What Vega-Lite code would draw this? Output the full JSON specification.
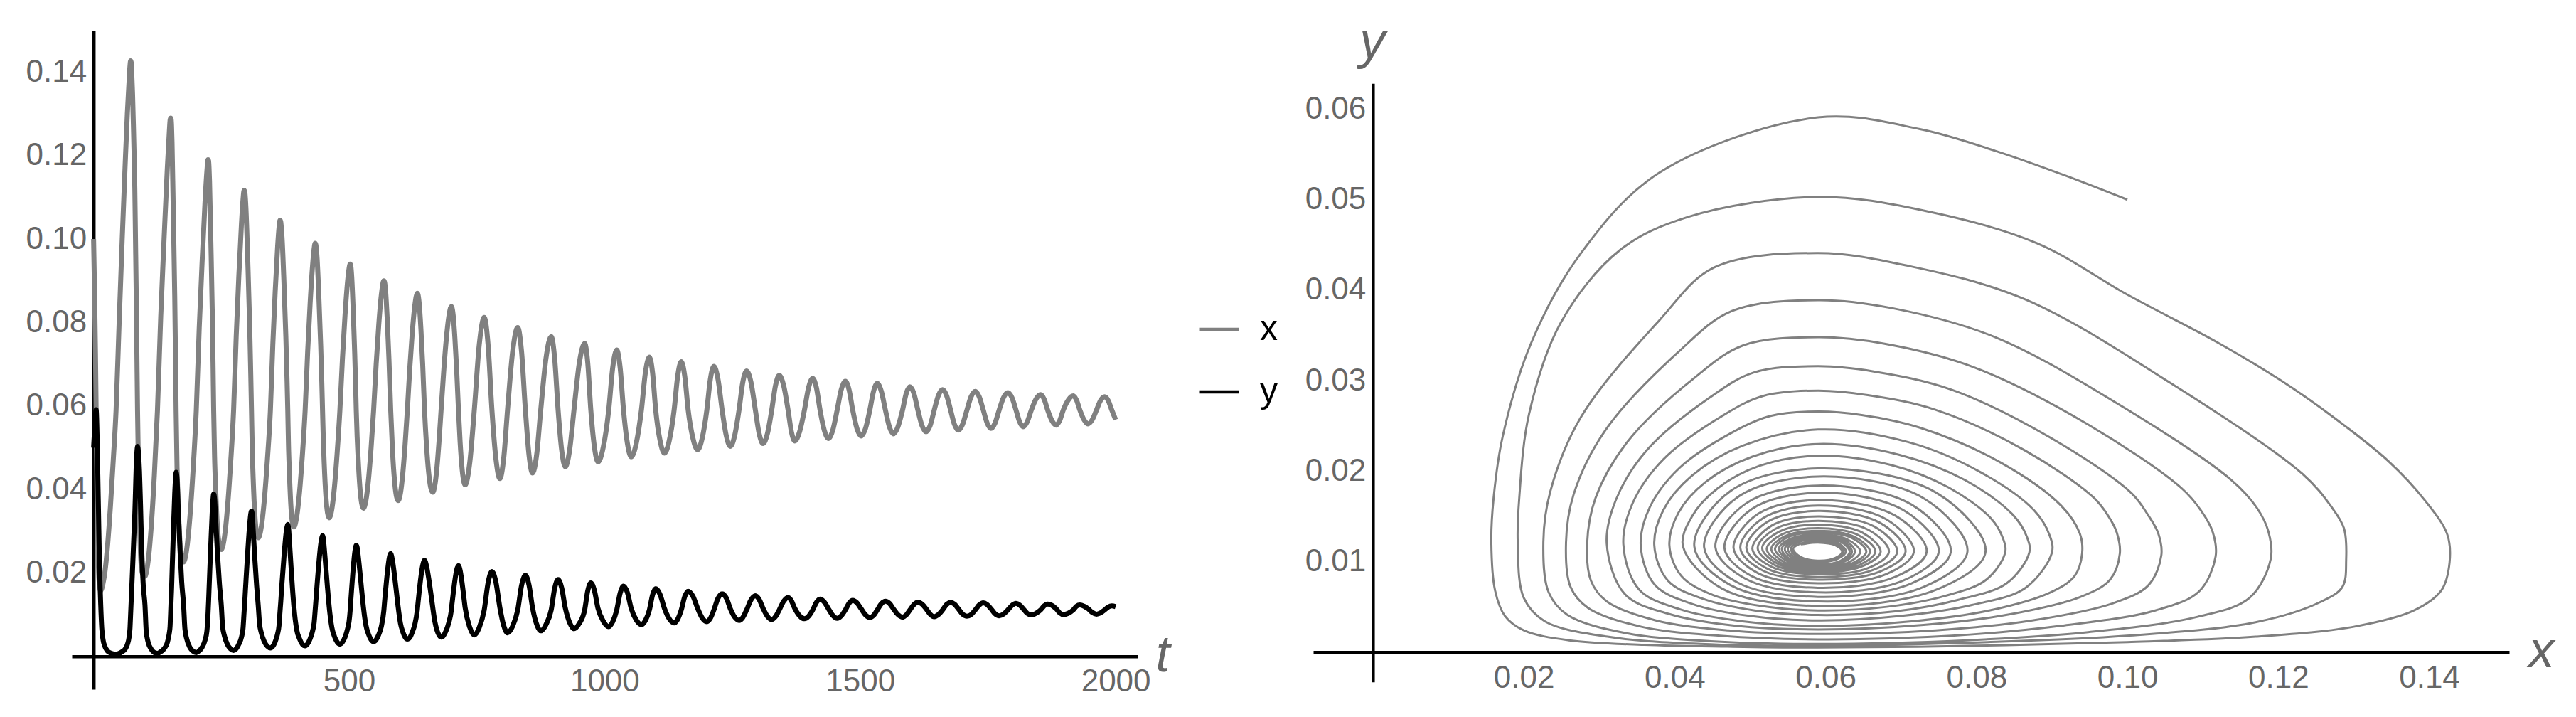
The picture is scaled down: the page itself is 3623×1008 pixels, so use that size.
{
"$schema": "https://vega.github.io/schema/vega-lite/v6.json",
"width": 3623,
"height": 1008,
"autosize": {"type": "none"},
"padding": 0,
"background": "white",
"config": {
  "view": {"stroke": null},
  "font": "Liberation Sans",
  "axis": {"grid": false, "ticks": false, "tickSize": 0, "domainColor": "#000000", "domainWidth": 4.5, "labelFont": "Liberation Sans", "labelFontSize": 44, "labelColor": "#666666", "titleFont": "Liberation Sans", "titleFontStyle": "italic", "titleFontWeight": "normal", "titleFontSize": 72, "titleColor": "#666666", "titleAngle": 0, "titleAlign": "center", "titleBaseline": "alphabetic"}
},
"data": {"values": [
{"t":0,"x":0.1000,"y":0.0500},{"t":1.2,"x":0.0920,"y":0.0526},{"t":2.5,"x":0.0825,"y":0.0554},{"t":3.7,"x":0.0725,"y":0.0578},{"t":5,"x":0.0590,"y":0.0591},{"t":6.8,"x":0.0380,"y":0.0530},{"t":8.2,"x":0.0275,"y":0.0440},{"t":9.7,"x":0.0210,"y":0.0342},{"t":11.3,"x":0.0172,"y":0.0238},{"t":12.7,"x":0.0160,"y":0.0170},
{"t":14,"x":0.0157,"y":0.0123},{"t":16,"x":0.0162,"y":0.0068},{"t":18.5,"x":0.0175,"y":0.0040},{"t":22,"x":0.0200,"y":0.0024},{"t":27,"x":0.0260,"y":0.0013},{"t":33,"x":0.0360,"y":0.0008},{"t":38.5,"x":0.0470,"y":0.0006},{"t":44,"x":0.0590,"y":0.0005},
{"t":50,"x":0.0800,"y":0.0007},{"t":56,"x":0.1000,"y":0.0011},{"t":61.5,"x":0.1170,"y":0.0017},{"t":66,"x":0.1300,"y":0.0028},{"t":69.5,"x":0.1380,"y":0.0046},{"t":71.3,"x":0.1416,"y":0.0068},{"t":72.4,"x":0.1427,"y":0.0099},
{"t":73.5,"x":0.1424,"y":0.0130},{"t":74.8,"x":0.1395,"y":0.0167},{"t":76.3,"x":0.1346,"y":0.0211},{"t":77.9,"x":0.1274,"y":0.0259},{"t":79.3,"x":0.1202,"y":0.0301},{"t":80.7,"x":0.1120,"y":0.0342},{"t":82,"x":0.1000,"y":0.0395},{"t":83.3,"x":0.0880,"y":0.0452},{"t":84.7,"x":0.0730,"y":0.0488},{"t":86,"x":0.0590,"y":0.0503},
{"t":88.2,"x":0.0418,"y":0.0481},{"t":89.8,"x":0.0327,"y":0.0444},{"t":91.8,"x":0.0249,"y":0.0364},{"t":94,"x":0.0207,"y":0.0263},{"t":97.2,"x":0.0194,"y":0.0170},{"t":100.6,"x":0.0192,"y":0.0122},
{"t":103.0,"x":0.0200,"y":0.0060},{"t":106.7,"x":0.0228,"y":0.0034},{"t":112.8,"x":0.0311,"y":0.0017},{"t":118.9,"x":0.0434,"y":0.0009},{"t":125,"x":0.0590,"y":0.0007},
{"t":131.4,"x":0.0815,"y":0.0011},{"t":137.9,"x":0.0999,"y":0.0018},{"t":144.3,"x":0.1170,"y":0.0033},{"t":148.1,"x":0.1255,"y":0.0055},{"t":149.7,"x":0.1285,"y":0.0072},{"t":150.7,"x":0.1290,"y":0.0102},
{"t":151.8,"x":0.1287,"y":0.0137},{"t":152.6,"x":0.1270,"y":0.0161},{"t":153.5,"x":0.1232,"y":0.0197},{"t":156.1,"x":0.1058,"y":0.0297},{"t":158.8,"x":0.0864,"y":0.0390},{"t":160.4,"x":0.0709,"y":0.0427},{"t":161.5,"x":0.0590,"y":0.0441},
{"t":163.3,"x":0.0452,"y":0.0425},{"t":165.2,"x":0.0380,"y":0.0367},{"t":168.9,"x":0.0276,"y":0.0260},{"t":172.5,"x":0.0235,"y":0.0177},{"t":176.2,"x":0.0226,"y":0.0122},
{"t":178.7,"x":0.0233,"y":0.0066},{"t":182.4,"x":0.0258,"y":0.0041},{"t":188.6,"x":0.0335,"y":0.0021},{"t":194.8,"x":0.0448,"y":0.0012},{"t":201,"x":0.0590,"y":0.0009},
{"t":206.75,"x":0.0787,"y":0.0013},{"t":212.5,"x":0.0948,"y":0.0022},{"t":218.25,"x":0.1093,"y":0.0039},{"t":221.7,"x":0.1162,"y":0.0060},{"t":224,"x":0.1190,"y":0.0103},
{"t":225.1,"x":0.1187,"y":0.0133},{"t":225.9,"x":0.1172,"y":0.0159},{"t":226.9,"x":0.1138,"y":0.0190},{"t":229.5,"x":0.0994,"y":0.0271},{"t":232.25,"x":0.0825,"y":0.0348},{"t":233.9,"x":0.0689,"y":0.0380},{"t":235,"x":0.0590,"y":0.0389},
{"t":236.8,"x":0.0476,"y":0.0377},{"t":238.75,"x":0.0404,"y":0.0331},{"t":242.5,"x":0.0308,"y":0.0245},{"t":246.25,"x":0.0266,"y":0.0174},{"t":250,"x":0.0256,"y":0.0121},
{"t":252.4,"x":0.0262,"y":0.0072},{"t":256,"x":0.0285,"y":0.0049},{"t":262,"x":0.0356,"y":0.0028},{"t":268,"x":0.0460,"y":0.0018},{"t":274,"x":0.0590,"y":0.0014},
{"t":279.1,"x":0.0767,"y":0.0018},{"t":284.25,"x":0.0912,"y":0.0029},{"t":289.4,"x":0.1037,"y":0.0046},{"t":292.45,"x":0.1095,"y":0.0067},{"t":294.5,"x":0.1117,"y":0.0106},
{"t":295.95,"x":0.1113,"y":0.0133},{"t":297,"x":0.1098,"y":0.0156},{"t":298.2,"x":0.1072,"y":0.0181},{"t":301.75,"x":0.0947,"y":0.0252},{"t":305.4,"x":0.0796,"y":0.0315},{"t":307.55,"x":0.0677,"y":0.0341},{"t":309,"x":0.0590,"y":0.0348},
{"t":310.6,"x":0.0491,"y":0.0339},{"t":312.3,"x":0.0426,"y":0.0303},{"t":315.65,"x":0.0337,"y":0.0232},{"t":319,"x":0.0295,"y":0.0170},{"t":322.3,"x":0.0284,"y":0.0120},
{"t":324.7,"x":0.0289,"y":0.0079},{"t":328.2,"x":0.0310,"y":0.0056},{"t":334.15,"x":0.0375,"y":0.0035},{"t":340.1,"x":0.0471,"y":0.0024},{"t":346,"x":0.0590,"y":0.0020},
{"t":350.7,"x":0.0746,"y":0.0024},{"t":355.4,"x":0.0874,"y":0.0035},{"t":360.1,"x":0.0981,"y":0.0054},{"t":362.9,"x":0.1028,"y":0.0074},{"t":364.8,"x":0.1045,"y":0.0107},
{"t":366.3,"x":0.1041,"y":0.0131},{"t":367.4,"x":0.1027,"y":0.0152},{"t":368.7,"x":0.1005,"y":0.0176},{"t":372.4,"x":0.0900,"y":0.0236},{"t":376.2,"x":0.0767,"y":0.0290},{"t":378.5,"x":0.0665,"y":0.0310},{"t":380,"x":0.0590,"y":0.0316},
{"t":381.4,"x":0.0505,"y":0.0309},{"t":383,"x":0.0446,"y":0.0281},{"t":385.95,"x":0.0363,"y":0.0223},{"t":388.9,"x":0.0322,"y":0.0168},{"t":391.9,"x":0.0310,"y":0.0120},
{"t":397.4,"x":0.0334,"y":0.0064},{"t":402.95,"x":0.0393,"y":0.0042},{"t":408.5,"x":0.0481,"y":0.0029},{"t":414,"x":0.0590,"y":0.0025},
{"t":418.9,"x":0.0730,"y":0.0030},{"t":423.75,"x":0.0846,"y":0.0042},{"t":428.6,"x":0.0938,"y":0.0061},{"t":431.55,"x":0.0977,"y":0.0080},{"t":433.5,"x":0.0990,"y":0.0109},
{"t":434.95,"x":0.0986,"y":0.0132},{"t":436,"x":0.0975,"y":0.0150},{"t":437.3,"x":0.0955,"y":0.0171},{"t":440.75,"x":0.0864,"y":0.0223},{"t":444.4,"x":0.0745,"y":0.0268},{"t":446.6,"x":0.0656,"y":0.0284},{"t":448,"x":0.0590,"y":0.0289},
{"t":449.6,"x":0.0517,"y":0.0283},{"t":451.25,"x":0.0463,"y":0.0261},{"t":454.5,"x":0.0385,"y":0.0213},{"t":457.75,"x":0.0344,"y":0.0164},{"t":461,"x":0.0332,"y":0.0119},
{"t":466.25,"x":0.0353,"y":0.0069},{"t":471.5,"x":0.0408,"y":0.0047},{"t":476.75,"x":0.0490,"y":0.0034},{"t":482,"x":0.0590,"y":0.0029},
{"t":487,"x":0.0714,"y":0.0034},{"t":492,"x":0.0817,"y":0.0046},{"t":497,"x":0.0898,"y":0.0066},{"t":500,"x":0.0930,"y":0.0084},{"t":502,"x":0.0940,"y":0.0109},
{"t":503.2,"x":0.0937,"y":0.0131},{"t":505,"x":0.0912,"y":0.0162},{"t":508,"x":0.0831,"y":0.0210},{"t":511,"x":0.0725,"y":0.0248},{"t":512.8,"x":0.0648,"y":0.0262},{"t":514,"x":0.0590,"y":0.0266},
{"t":515.7,"x":0.0527,"y":0.0261},{"t":517.5,"x":0.0479,"y":0.0244},{"t":521,"x":0.0407,"y":0.0204},{"t":524.5,"x":0.0367,"y":0.0160},{"t":528,"x":0.0355,"y":0.0118},
{"t":533,"x":0.0374,"y":0.0074},{"t":538,"x":0.0424,"y":0.0053},{"t":543,"x":0.0499,"y":0.0040},{"t":548,"x":0.0590,"y":0.0035},
{"t":553,"x":0.0701,"y":0.0040},{"t":558,"x":0.0794,"y":0.0052},{"t":563,"x":0.0865,"y":0.0071},{"t":568,"x":0.0900,"y":0.0110},
{"t":569.3,"x":0.0897,"y":0.0129},{"t":571.35,"x":0.0876,"y":0.0157},{"t":574.7,"x":0.0805,"y":0.0199},{"t":578.05,"x":0.0710,"y":0.0232},{"t":581.4,"x":0.0590,"y":0.0246},
{"t":585.05,"x":0.0490,"y":0.0228},{"t":588.7,"x":0.0423,"y":0.0195},{"t":592.35,"x":0.0385,"y":0.0157},{"t":596,"x":0.0373,"y":0.0118},
{"t":600.5,"x":0.0391,"y":0.0079},{"t":605,"x":0.0437,"y":0.0059},{"t":609.5,"x":0.0506,"y":0.0046},{"t":614,"x":0.0590,"y":0.0041},
{"t":618.85,"x":0.0692,"y":0.0045},{"t":623.7,"x":0.0777,"y":0.0058},{"t":628.55,"x":0.0840,"y":0.0076},{"t":633.4,"x":0.0870,"y":0.0110},
{"t":634.8,"x":0.0867,"y":0.0127},{"t":636.95,"x":0.0848,"y":0.0152},{"t":640.5,"x":0.0785,"y":0.0190},{"t":644.05,"x":0.0698,"y":0.0218},{"t":647.6,"x":0.0590,"y":0.0230},
{"t":651.6,"x":0.0503,"y":0.0216},{"t":655.6,"x":0.0441,"y":0.0188},{"t":659.6,"x":0.0405,"y":0.0154},{"t":663.6,"x":0.0393,"y":0.0118},
{"t":667.7,"x":0.0409,"y":0.0084},{"t":671.8,"x":0.0451,"y":0.0063},{"t":675.9,"x":0.0514,"y":0.0051},{"t":680,"x":0.0590,"y":0.0046},
{"t":685,"x":0.0681,"y":0.0050},{"t":690,"x":0.0758,"y":0.0062},{"t":695,"x":0.0813,"y":0.0080},{"t":700,"x":0.0838,"y":0.0110},
{"t":701.4,"x":0.0835,"y":0.0126},{"t":703.5,"x":0.0819,"y":0.0148},{"t":707,"x":0.0763,"y":0.0182},{"t":710.5,"x":0.0686,"y":0.0207},{"t":714,"x":0.0590,"y":0.0217},
{"t":717.25,"x":0.0513,"y":0.0206},{"t":720.5,"x":0.0457,"y":0.0181},{"t":723.75,"x":0.0423,"y":0.0150},{"t":727,"x":0.0411,"y":0.0117},
{"t":736,"x":0.0463,"y":0.0070},{"t":745,"x":0.0590,"y":0.0051},{"t":754.7,"x":0.0747,"y":0.0069},{"t":764.4,"x":0.0812,"y":0.0111},{"t":771.95,"x":0.0747,"y":0.0176},{"t":779.5,"x":0.0590,"y":0.0203},{"t":787.25,"x":0.0474,"y":0.0178},{"t":795,"x":0.0426,"y":0.0117},
{"t":802.5,"x":0.0474,"y":0.0074},{"t":810,"x":0.0590,"y":0.0056},{"t":820,"x":0.0730,"y":0.0072},{"t":830,"x":0.0788,"y":0.0111},{"t":837.5,"x":0.0730,"y":0.0170},{"t":845,"x":0.0590,"y":0.0194},{"t":852,"x":0.0483,"y":0.0171},{"t":859,"x":0.0439,"y":0.0116},
{"t":867,"x":0.0483,"y":0.0077},{"t":875,"x":0.0590,"y":0.0061},{"t":885.25,"x":0.0714,"y":0.0076},{"t":895.5,"x":0.0766,"y":0.0111},{"t":902.25,"x":0.0714,"y":0.0163},{"t":909,"x":0.0590,"y":0.0184},{"t":916,"x":0.0494,"y":0.0164},{"t":923,"x":0.0454,"y":0.0116},
{"t":931.5,"x":0.0494,"y":0.0081},{"t":940,"x":0.0590,"y":0.0066},{"t":950.5,"x":0.0703,"y":0.0079},{"t":961,"x":0.0750,"y":0.0111},{"t":967,"x":0.0703,"y":0.0157},{"t":973,"x":0.0590,"y":0.0176},{"t":980,"x":0.0502,"y":0.0158},{"t":987,"x":0.0466,"y":0.0115},
{"t":997.5,"x":0.0502,"y":0.0084},{"t":1008,"x":0.0590,"y":0.0071},{"t":1015.85,"x":0.0692,"y":0.0083},{"t":1023.7,"x":0.0734,"y":0.0111},{"t":1030.35,"x":0.0692,"y":0.0151},{"t":1037,"x":0.0590,"y":0.0168},{"t":1044.5,"x":0.0511,"y":0.0153},{"t":1052,"x":0.0478,"y":0.0115},
{"t":1062,"x":0.0511,"y":0.0087},{"t":1072,"x":0.0590,"y":0.0076},{"t":1079.8,"x":0.0680,"y":0.0086},{"t":1087.6,"x":0.0717,"y":0.0111},{"t":1093.8,"x":0.0680,"y":0.0147},{"t":1100,"x":0.0590,"y":0.0162},{"t":1108.5,"x":0.0517,"y":0.0148},{"t":1117,"x":0.0487,"y":0.0115},
{"t":1126.5,"x":0.0517,"y":0.0090},{"t":1136,"x":0.0590,"y":0.0080},{"t":1143,"x":0.0672,"y":0.0089},{"t":1150,"x":0.0706,"y":0.0111},{"t":1156.75,"x":0.0672,"y":0.0143},{"t":1163.5,"x":0.0590,"y":0.0156},{"t":1172.75,"x":0.0523,"y":0.0144},{"t":1182,"x":0.0495,"y":0.0115},
{"t":1191,"x":0.0523,"y":0.0092},{"t":1200,"x":0.0590,"y":0.0083},{"t":1206.9,"x":0.0664,"y":0.0091},{"t":1213.8,"x":0.0695,"y":0.0111},{"t":1221.9,"x":0.0664,"y":0.0139},{"t":1230,"x":0.0590,"y":0.0150},{"t":1238,"x":0.0529,"y":0.0140},{"t":1246,"x":0.0503,"y":0.0114},
{"t":1254.5,"x":0.0529,"y":0.0094},{"t":1263,"x":0.0590,"y":0.0086},{"t":1270.4,"x":0.0657,"y":0.0093},{"t":1277.8,"x":0.0684,"y":0.0111},{"t":1286.4,"x":0.0657,"y":0.0135},{"t":1295,"x":0.0590,"y":0.0145},{"t":1302.5,"x":0.0533,"y":0.0136},{"t":1310,"x":0.0510,"y":0.0115},
{"t":1318.5,"x":0.0533,"y":0.0096},{"t":1327,"x":0.0590,"y":0.0088},{"t":1334.35,"x":0.0649,"y":0.0095},{"t":1341.7,"x":0.0673,"y":0.0111},{"t":1350.35,"x":0.0649,"y":0.0132},{"t":1359,"x":0.0590,"y":0.0141},{"t":1365.5,"x":0.0538,"y":0.0133},{"t":1372,"x":0.0516,"y":0.0115},
{"t":1381.5,"x":0.0538,"y":0.0097},{"t":1391,"x":0.0590,"y":0.0090},{"t":1399.1,"x":0.0644,"y":0.0096},{"t":1407.2,"x":0.0666,"y":0.0111},{"t":1414.4,"x":0.0644,"y":0.0129},{"t":1421.6,"x":0.0590,"y":0.0137},{"t":1429.8,"x":0.0542,"y":0.0130},{"t":1438,"x":0.0522,"y":0.0114},
{"t":1446.5,"x":0.0542,"y":0.0098},{"t":1455,"x":0.0590,"y":0.0091},{"t":1463.05,"x":0.0639,"y":0.0097},{"t":1471.1,"x":0.0659,"y":0.0111},{"t":1478.3,"x":0.0639,"y":0.0127},{"t":1485.5,"x":0.0590,"y":0.0134},{"t":1493.75,"x":0.0546,"y":0.0128},{"t":1502,"x":0.0528,"y":0.0114},
{"t":1510.5,"x":0.0546,"y":0.0099},{"t":1519,"x":0.0590,"y":0.0093},{"t":1526.25,"x":0.0635,"y":0.0098},{"t":1533.5,"x":0.0654,"y":0.0111},{"t":1541.5,"x":0.0635,"y":0.0126},{"t":1549.5,"x":0.0590,"y":0.0132},{"t":1557.25,"x":0.0550,"y":0.0127},{"t":1565,"x":0.0533,"y":0.0114},
{"t":1574,"x":0.0550,"y":0.0100},{"t":1583,"x":0.0590,"y":0.0094},{"t":1590.2,"x":0.0630,"y":0.0099},{"t":1597.4,"x":0.0646,"y":0.0111},{"t":1605.2,"x":0.0630,"y":0.0124},{"t":1613,"x":0.0590,"y":0.0130},{"t":1621,"x":0.0553,"y":0.0125},{"t":1629,"x":0.0538,"y":0.0114},
{"t":1637,"x":0.0553,"y":0.0101},{"t":1645,"x":0.0590,"y":0.0095},{"t":1653.15,"x":0.0625,"y":0.0100},{"t":1661.3,"x":0.0639,"y":0.0111},{"t":1669.15,"x":0.0625,"y":0.0124},{"t":1677,"x":0.0590,"y":0.0129},{"t":1684.5,"x":0.0556,"y":0.0125},{"t":1692,"x":0.0542,"y":0.0114},
{"t":1700.5,"x":0.0556,"y":0.0101},{"t":1709,"x":0.0590,"y":0.0096},{"t":1717.1,"x":0.0622,"y":0.0100},{"t":1725.2,"x":0.0635,"y":0.0111},{"t":1733.1,"x":0.0622,"y":0.0123},{"t":1741,"x":0.0590,"y":0.0128},{"t":1748.5,"x":0.0559,"y":0.0124},{"t":1756,"x":0.0546,"y":0.0114},
{"t":1764,"x":0.0559,"y":0.0102},{"t":1772,"x":0.0590,"y":0.0097},{"t":1780.55,"x":0.0620,"y":0.0101},{"t":1789.1,"x":0.0632,"y":0.0111},{"t":1797.05,"x":0.0620,"y":0.0122},{"t":1805,"x":0.0590,"y":0.0127},{"t":1812,"x":0.0562,"y":0.0123},{"t":1819,"x":0.0550,"y":0.0114},
{"t":1827,"x":0.0562,"y":0.0103},{"t":1835,"x":0.0590,"y":0.0099},{"t":1844.05,"x":0.0616,"y":0.0103},{"t":1853.1,"x":0.0627,"y":0.0111},{"t":1860.05,"x":0.0616,"y":0.0121},{"t":1867,"x":0.0590,"y":0.0125},{"t":1875.25,"x":0.0565,"y":0.0122},{"t":1883.5,"x":0.0554,"y":0.0114},
{"t":1890.5,"x":0.0565,"y":0.0104},{"t":1897.5,"x":0.0590,"y":0.0100},{"t":1907.2,"x":0.0614,"y":0.0103},{"t":1916.9,"x":0.0624,"y":0.0111},{"t":1923.45,"x":0.0614,"y":0.0120},{"t":1930,"x":0.0590,"y":0.0123},{"t":1938,"x":0.0567,"y":0.0120},{"t":1946,"x":0.0557,"y":0.0114},
{"t":1954.25,"x":0.0567,"y":0.0105},{"t":1962.5,"x":0.0590,"y":0.0101},{"t":1970.45,"x":0.0613,"y":0.0104},{"t":1978.4,"x":0.0622,"y":0.0111},{"t":1985.45,"x":0.0613,"y":0.0118},{"t":1992.5,"x":0.0590,"y":0.0121},{"t":2000,"x":0.0567,"y":0.0119}
]},
"layer": [
  {
    "transform": [{"fold": ["x", "y"], "as": ["series", "value"]}],
    "mark": {"type": "line", "interpolate": "monotone", "strokeWidth": 7, "strokeJoin": "round"},
    "encoding": {
      "x": {"field": "t", "type": "quantitative",
        "scale": {"domain": [-42.6, 2043], "range": [101, 1600], "nice": false, "zero": false},
        "axis": {"orient": "bottom", "offset": -85.3, "values": [500, 1000, 1500, 2000], "format": "d", "labelPadding": 14, "title": "t", "titleX": 1635, "titleY": 21}},
      "y": {"field": "value", "type": "quantitative",
        "scale": {"domain": [-0.0079, 0.15], "range": [969, 42.7], "nice": false, "zero": false},
        "axis": {"orient": "left", "offset": -131.7, "values": [0.02, 0.04, 0.06, 0.08, 0.1, 0.12, 0.14], "format": ".2f", "labelPadding": 10, "title": null}},
      "color": {"field": "series", "type": "nominal",
        "scale": {"domain": ["x", "y"], "range": ["#808080", "#000000"]},
        "legend": {"orient": "none", "legendX": 1685, "legendY": 433, "title": null, "direction": "vertical", "symbolType": "stroke", "symbolSize": 3025, "symbolStrokeWidth": 4.3, "labelFont": "Liberation Sans", "labelFontSize": 50, "labelColor": "#000000", "labelOffset": 27, "rowPadding": 33, "padding": 0}}
    }
  },
  {
    "mark": {"type": "line", "interpolate": "catmull-rom", "strokeWidth": 3, "color": "#808080", "strokeJoin": "round"},
    "encoding": {
      "x": {"field": "x", "type": "quantitative",
        "scale": {"domain": [-0.0079, 0.1506], "range": [1847, 3529], "nice": false, "zero": false},
        "axis": {"orient": "bottom", "offset": -91.3, "values": [0.02, 0.04, 0.06, 0.08, 0.1, 0.12, 0.14], "format": ".2f", "labelPadding": 15, "title": "x", "titleX": 3574, "titleY": 21}},
      "y": {"field": "y", "type": "quantitative",
        "scale": {"domain": [-0.0033, 0.06285], "range": [958.7, 117.3], "nice": false, "zero": false},
        "axis": {"orient": "left", "offset": -1930.8, "values": [0.01, 0.02, 0.03, 0.04, 0.05, 0.06], "format": ".2f", "labelPadding": 10, "title": "y", "titleX": -1, "titleY": 81}},
      "order": {"field": "t", "type": "quantitative"}
    }
  }
],
"resolve": {"scale": {"x": "independent", "y": "independent"}, "axis": {"x": "independent", "y": "independent"}}
}
